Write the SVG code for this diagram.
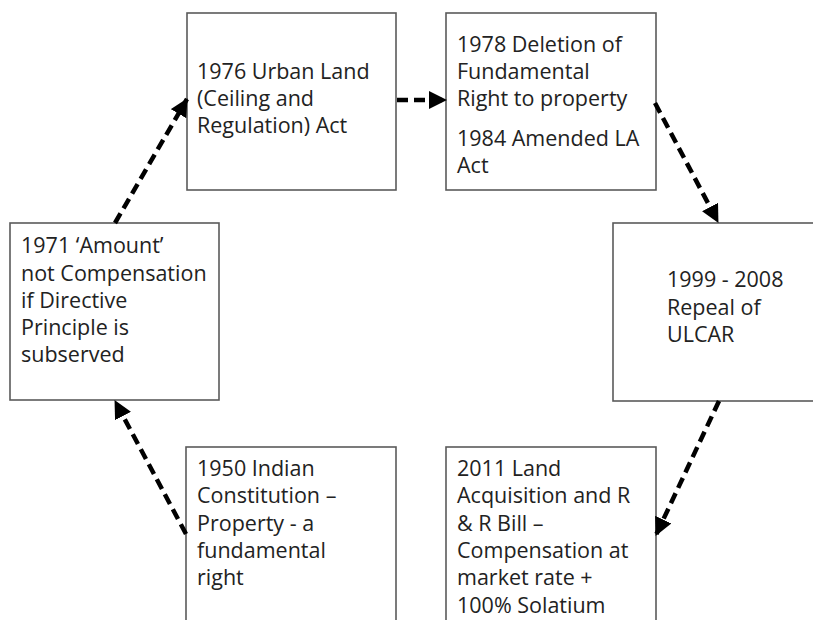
<svg xmlns="http://www.w3.org/2000/svg" width="813" height="620" viewBox="0 0 813 620">
<defs>
<style>
.box rect{fill:#fff;stroke:#5a5a5a;stroke-width:1.6}
.box text{font-family:"Open Sans","Liberation Sans",sans-serif;font-size:21.5px;fill:#222}
.conn line{stroke:#000;stroke-width:4.5;stroke-dasharray:11 6;fill:none;marker-end:url(#ah)}
</style>
<marker id="ah" markerUnits="userSpaceOnUse" markerWidth="18" markerHeight="18" refX="17" refY="9" orient="auto" viewBox="0 0 18 18">
<path d="M0,0 L18,9 L0,18 z" fill="#000"/>
</marker>
</defs>
<rect width="813" height="620" fill="#fff"/>
<g id="n1976" class="box">
<rect x="187" y="13" width="209" height="177"/>
<text x="197" y="79">1976 Urban Land</text>
<text x="197" y="106">(Ceiling and</text>
<text x="197" y="133">Regulation) Act</text>
</g>
<g id="n1978" class="box">
<rect x="446" y="13" width="210" height="177"/>
<text x="457" y="52">1978 Deletion of</text>
<text x="457" y="79">Fundamental</text>
<text x="457" y="106">Right to property</text>
<text x="457" y="146">1984 Amended LA</text>
<text x="457" y="173">Act</text>
</g>
<g id="n1971" class="box">
<rect x="10" y="223" width="209" height="177"/>
<text x="21" y="253">1971 ‘Amount’</text>
<text x="21" y="281">not Compensation</text>
<text x="21" y="308">if Directive</text>
<text x="21" y="335">Principle is</text>
<text x="21" y="362">subserved</text>
</g>
<g id="n1999" class="box">
<rect x="613" y="223" width="220" height="178"/>
<text x="667" y="287">1999 - 2008</text>
<text x="667" y="315">Repeal of</text>
<text x="667" y="342">ULCAR</text>
</g>
<g id="n1950" class="box">
<rect x="186" y="447" width="210" height="190"/>
<text x="197" y="476">1950 Indian</text>
<text x="197" y="503">Constitution –</text>
<text x="197" y="531">Property - a</text>
<text x="197" y="558">fundamental</text>
<text x="197" y="585">right</text>
</g>
<g id="n2011" class="box">
<rect x="446" y="447" width="210" height="190"/>
<text x="457" y="476">2011 Land</text>
<text x="457" y="503">Acquisition and R</text>
<text x="457" y="531">&amp; R Bill –</text>
<text x="457" y="558">Compensation at</text>
<text x="457" y="585">market rate +</text>
<text x="457" y="613">100% Solatium</text>
</g>
<g id="connectors" class="conn">
<line x1="397" y1="100" x2="446" y2="100"/>
<line x1="655" y1="103" x2="718" y2="222"/>
<line x1="719" y1="401" x2="656" y2="535"/>
<line x1="186" y1="534" x2="115" y2="401"/>
<line x1="115" y1="223" x2="187" y2="99"/>
</g>
</svg>
